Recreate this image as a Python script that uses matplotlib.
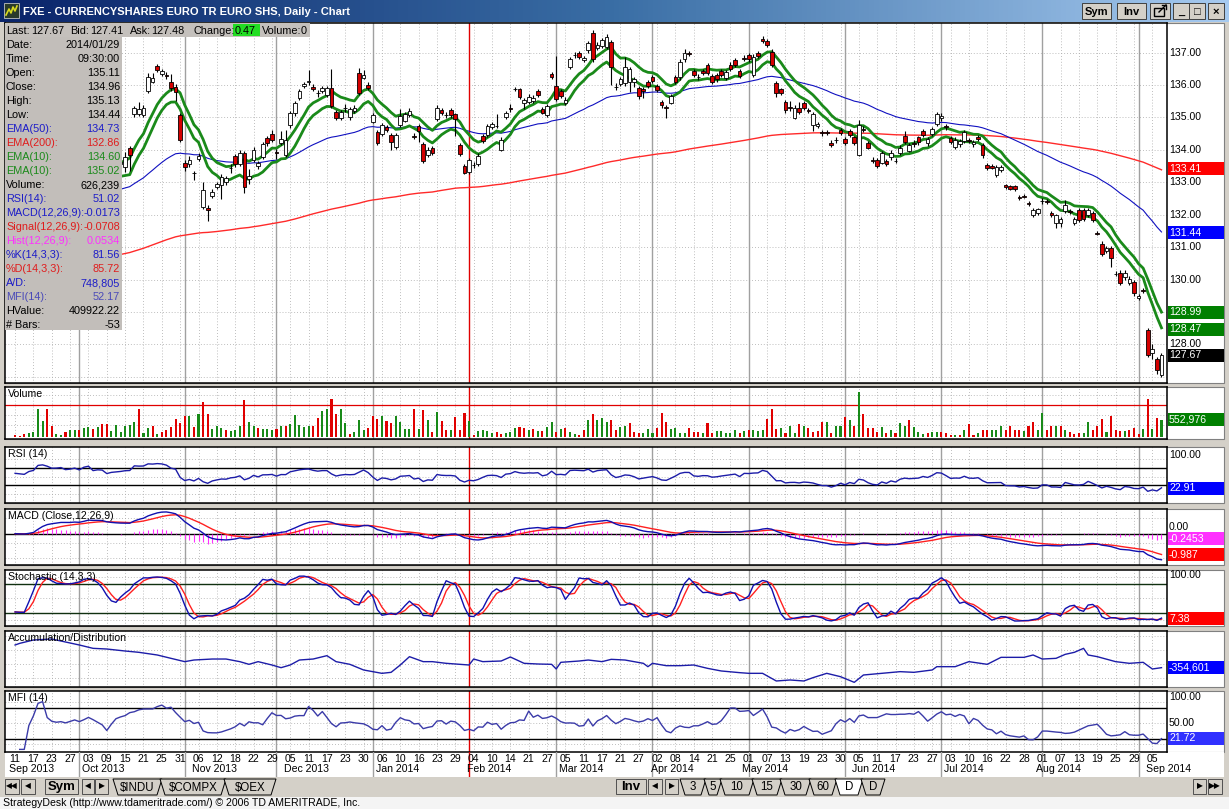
import numpy as np
import pandas as pd
import matplotlib.pyplot as plt
from matplotlib.patches import Rectangle, Polygon
from matplotlib.colors import LinearSegmentedColormap

# ---- daily bars, Sep 11 2013 .. Sep 9 2014 ----
opens = [
    131.30, 131.05, 130.95, 131.25, 131.40, 131.60, 133.10, 133.30, 133.10, 132.85,
    132.90, 133.05, 132.80, 132.95, 133.20, 132.95, 133.75, 134.10, 133.45, 133.70,
    133.65, 133.10, 133.40, 133.55, 133.48, 134.05, 135.10, 135.10, 135.08, 135.82,
    136.10, 136.59, 136.33, 136.30, 136.10, 135.94, 135.07, 133.60, 133.55, 133.30,
    133.72, 132.24, 132.22, 132.57, 132.85, 132.91, 133.00, 133.45, 133.80, 133.56,
    133.90, 133.10, 133.70, 133.50, 133.78, 134.36, 134.50, 133.92, 134.22, 133.84,
    134.76, 135.13, 135.60, 135.96, 136.10, 135.95, 135.75, 135.82, 135.70, 135.91,
    135.17, 134.97, 135.30, 135.00, 135.20, 136.38, 136.22, 136.00, 134.87, 134.56,
    134.50, 134.70, 134.45, 134.10, 134.76, 134.90, 135.07, 134.43, 134.73, 134.18,
    133.84, 134.06, 134.94, 135.24, 135.08, 135.22, 135.11, 134.15, 133.50, 133.32,
    133.54, 133.56, 134.42, 134.45, 134.70, 134.74, 134.00, 135.00, 135.29, 135.88,
    135.86, 135.45, 135.48, 135.50, 135.82, 135.25, 135.07, 136.33, 135.98, 135.80,
    135.45, 136.54, 136.93, 136.97, 136.78, 137.07, 137.59, 137.15, 137.20, 137.18,
    137.33, 135.95, 136.03, 136.05, 136.10, 136.10, 135.90, 135.88, 136.08, 136.25,
    135.96, 135.48, 135.31, 135.45, 136.25, 136.23, 136.79, 136.98, 136.43, 136.26,
    136.42, 136.61, 136.27, 136.32, 136.43, 136.20, 136.63, 136.77, 136.44, 136.83,
    136.92, 136.30, 136.97, 137.43, 137.36, 137.02, 136.05, 135.86, 135.48, 135.31,
    134.97, 135.30, 135.43, 135.23, 134.76, 134.73, 134.54, 134.54, 134.22, 134.31,
    134.60, 134.32, 134.58, 134.38, 133.84, 134.64, 134.20, 133.69, 133.70, 133.60,
    133.66, 133.77, 133.66, 133.90, 134.43, 133.97, 134.21, 134.38, 134.58, 134.22,
    134.50, 134.79, 134.97, 134.72, 134.37, 134.09, 134.17, 134.28, 134.29, 134.17,
    134.40, 134.14, 133.53, 133.49, 133.22, 133.37, 132.90, 132.88, 132.88, 132.54,
    132.58, 132.35, 131.98, 132.04, 132.43, 132.41, 132.04, 131.75, 131.73, 132.12,
    132.10, 131.75, 132.14, 132.14, 131.98, 132.04, 131.43, 131.11, 130.88, 130.96,
    130.18, 130.21, 130.08, 129.88, 129.93, 129.42, 129.68, 128.44, 127.72, 127.56,
    127.05]
highs = [
    131.38, 131.15, 131.05, 131.48, 131.70, 133.20, 133.45, 133.38, 133.18, 133.02,
    133.16, 133.12, 133.05, 133.30, 133.28, 133.82, 134.22, 134.15, 133.78, 133.80,
    133.70, 133.48, 133.60, 133.72, 133.92, 134.12, 135.36, 135.48, 135.38, 136.36,
    136.38, 136.65, 136.50, 136.40, 136.35, 136.02, 135.15, 133.70, 133.80, 133.36,
    133.90, 133.00, 132.30, 132.78, 133.02, 133.25, 133.20, 133.55, 133.88, 134.00,
    133.95, 133.40, 134.08, 133.66, 134.25, 134.44, 134.62, 134.04, 134.58, 134.60,
    135.20, 135.52, 135.88, 136.10, 136.45, 136.02, 135.85, 135.98, 135.98, 136.48,
    135.22, 135.24, 135.40, 135.32, 135.38, 136.52, 136.45, 136.08, 135.15, 134.62,
    134.82, 134.76, 134.52, 134.52, 135.25, 135.18, 135.28, 134.52, 134.80, 134.24,
    134.08, 134.12, 135.38, 135.30, 135.16, 135.28, 135.13, 134.22, 133.56, 133.76,
    133.62, 133.90, 134.50, 134.80, 134.86, 135.10, 134.38, 135.20, 135.40, 135.95,
    135.92, 135.60, 135.72, 135.68, 135.88, 135.32, 135.42, 136.40, 136.90, 135.86,
    135.62, 136.86, 137.02, 137.04, 136.90, 137.36, 137.70, 137.32, 137.46, 137.56,
    137.40, 136.05, 136.25, 136.85, 136.56, 136.24, 135.97, 135.95, 136.14, 136.32,
    136.02, 135.55, 135.38, 135.72, 136.32, 136.80, 137.12, 137.05, 136.50, 136.35,
    136.48, 136.68, 136.34, 136.38, 136.50, 136.46, 136.70, 136.84, 136.50, 136.92,
    136.98, 136.95, 137.04, 137.50, 137.42, 137.10, 136.12, 135.92, 135.55, 135.50,
    135.38, 135.48, 135.50, 135.30, 135.16, 134.86, 134.62, 134.62, 134.30, 134.40,
    134.66, 134.38, 134.64, 134.44, 134.92, 134.72, 134.26, 133.78, 133.76, 133.96,
    133.72, 133.98, 133.74, 134.14, 134.58, 134.22, 134.30, 134.44, 134.64, 134.40,
    134.70, 135.18, 135.12, 134.80, 134.42, 134.38, 134.34, 134.62, 134.36, 134.30,
    134.46, 134.20, 133.60, 133.55, 133.52, 133.52, 132.95, 132.93, 132.92, 132.62,
    132.65, 132.42, 132.20, 132.22, 132.50, 132.48, 132.10, 132.03, 131.94, 132.45,
    132.16, 131.92, 132.20, 132.22, 132.22, 132.10, 131.50, 131.18, 131.02, 131.02,
    130.26, 130.28, 130.28, 130.10, 130.00, 129.56, 129.74, 128.50, 128.00, 127.62,
    127.72]
lows = [
    130.96, 130.88, 130.80, 131.18, 131.32, 131.52, 133.00, 133.05, 132.78, 132.75,
    132.82, 132.74, 132.72, 132.88, 132.90, 132.90, 133.68, 133.40, 133.38, 133.55,
    133.05, 133.02, 133.32, 133.45, 133.32, 133.35, 135.02, 135.05, 135.02, 135.76,
    136.05, 136.40, 136.28, 136.18, 135.82, 135.50, 134.25, 133.35, 133.48, 133.06,
    133.66, 132.18, 131.80, 132.50, 132.78, 132.47, 132.92, 133.30, 133.48, 133.50,
    132.67, 132.94, 133.62, 133.40, 133.72, 134.12, 134.24, 133.73, 134.15, 133.78,
    134.66, 135.05, 135.55, 135.90, 136.00, 135.80, 135.62, 135.76, 135.64, 135.30,
    134.92, 134.92, 135.18, 134.92, 135.14, 135.70, 136.18, 135.84, 134.82, 134.15,
    134.44, 134.56, 133.99, 134.04, 134.70, 134.85, 135.00, 134.32, 134.25, 133.60,
    133.78, 133.84, 134.88, 135.06, 134.98, 134.98, 134.44, 133.80, 133.25, 133.26,
    133.45, 133.50, 134.22, 134.40, 134.64, 134.66, 133.95, 134.94, 135.18, 135.80,
    135.56, 135.25, 135.42, 135.44, 135.62, 135.09, 135.00, 136.18, 135.52, 135.60,
    135.38, 136.48, 136.84, 136.80, 136.72, 137.00, 136.72, 137.08, 137.14, 137.12,
    136.00, 135.85, 135.97, 135.98, 135.78, 135.95, 135.58, 135.60, 135.92, 136.06,
    135.78, 135.30, 134.97, 135.40, 136.04, 136.16, 136.72, 136.88, 136.25, 136.16,
    136.30, 136.30, 136.04, 136.10, 136.24, 136.14, 136.42, 136.55, 136.20, 136.74,
    136.72, 136.24, 136.84, 137.30, 137.16, 136.55, 135.62, 135.70, 135.12, 135.20,
    134.94, 135.10, 135.22, 135.12, 134.59, 134.66, 134.44, 134.45, 134.08, 134.22,
    134.46, 134.14, 134.40, 134.16, 133.80, 134.55, 134.02, 133.60, 133.44, 133.55,
    133.50, 133.70, 133.58, 133.84, 134.18, 133.92, 134.10, 134.16, 134.40, 134.12,
    134.44, 134.72, 134.90, 134.62, 134.18, 134.02, 134.10, 134.22, 134.20, 134.10,
    134.26, 133.76, 133.38, 133.40, 133.16, 133.32, 132.80, 132.76, 132.74, 132.46,
    132.50, 132.27, 131.92, 131.98, 132.34, 132.34, 131.92, 131.60, 131.62, 132.06,
    132.02, 131.68, 131.78, 131.82, 131.92, 131.76, 131.36, 130.74, 130.82, 130.40,
    130.10, 129.82, 130.00, 129.82, 129.50, 129.36, 129.58, 127.60, 127.55, 127.10,
    127.00]
closes = [
    131.05, 130.98, 130.92, 131.40, 131.62, 133.10, 133.32, 133.15, 132.88, 132.92,
    133.08, 132.82, 132.95, 133.22, 133.00, 133.75, 134.10, 133.48, 133.70, 133.66,
    133.12, 133.40, 133.52, 133.62, 133.79, 133.84, 135.29, 135.25, 135.30, 136.25,
    136.22, 136.46, 136.42, 136.28, 135.90, 135.77, 134.30, 133.47, 133.70, 133.27,
    133.82, 132.76, 132.15, 132.70, 132.95, 133.17, 133.12, 133.43, 133.55, 133.90,
    132.85, 133.20, 134.00, 133.58, 134.18, 134.20, 134.30, 133.90, 134.32, 134.30,
    135.13, 135.44, 135.80, 136.02, 136.11, 135.88, 135.74, 135.90, 135.90, 135.36,
    134.97, 135.17, 135.29, 135.25, 135.30, 135.76, 136.30, 135.90, 135.07, 134.22,
    134.76, 134.62, 134.25, 134.45, 135.04, 135.10, 135.20, 134.41, 134.58, 133.66,
    134.00, 133.90, 135.30, 135.12, 135.06, 135.07, 134.96, 133.87, 133.30, 133.68,
    133.52, 133.80, 134.28, 134.73, 134.80, 134.72, 134.30, 135.12, 135.27, 135.86,
    135.62, 135.53, 135.64, 135.60, 135.69, 135.14, 135.35, 136.25, 135.58, 135.66,
    135.55, 136.79, 136.91, 136.87, 136.82, 137.28, 136.79, 137.23, 137.38, 137.49,
    136.56, 135.93, 136.17, 136.56, 136.48, 136.17, 135.65, 135.82, 135.98, 136.13,
    135.84, 135.38, 135.29, 135.66, 136.10, 136.72, 136.97, 136.96, 136.32, 136.24,
    136.38, 136.36, 136.10, 136.17, 136.30, 136.40, 136.48, 136.61, 136.27, 136.81,
    136.79, 136.87, 136.90, 137.36, 137.23, 136.61, 135.74, 135.76, 135.22, 135.29,
    135.30, 135.17, 135.28, 135.21, 135.09, 134.79, 134.52, 134.52, 134.15, 134.29,
    134.53, 134.20, 134.45, 134.22, 134.76, 134.62, 134.07, 133.67, 133.50, 133.89,
    133.56, 133.90, 133.64, 134.07, 134.25, 134.14, 134.19, 134.23, 134.47, 134.32,
    134.63, 135.10, 135.05, 134.70, 134.25, 134.30, 134.28, 134.55, 134.27, 134.24,
    134.32, 133.83, 133.44, 133.45, 133.47, 133.47, 132.85, 132.80, 132.78, 132.52,
    132.56, 132.33, 132.14, 132.16, 132.41, 132.39, 131.98, 131.98, 131.88, 132.29,
    132.08, 131.86, 131.83, 131.88, 132.14, 131.83, 131.41, 130.80, 130.96, 130.65,
    130.16, 129.88, 130.21, 130.03, 129.57, 129.49, 129.66, 127.67, 127.87, 127.20,
    127.67]
volumes = [  # thousands of shares
    75, 45, 110, 130, 150, 880, 500, 900, 360, 110,
    75, 150, 210, 235, 235, 290, 320, 250, 320, 430,
    430, 180, 395, 150, 340, 395, 470, 900, 130, 290,
    340, 110, 150, 235, 320, 560, 450, 660, 660, 310,
    750, 1120, 750, 257, 342, 290, 235, 180, 235, 340,
    1180, 470, 365, 290, 257, 257, 235, 257, 365, 342,
    405, 695, 395, 320, 342, 342, 610, 820, 880, 1220,
    720, 880, 450, 110, 150, 535, 235, 290, 685, 580,
    660, 500, 450, 660, 470, 257, 257, 880, 257, 860,
    535, 150, 790, 500, 235, 235, 626, 235, 770, 500,
    75, 180, 215, 200, 130, 150, 110, 130, 150, 290,
    310, 290, 235, 257, 180, 180, 310, 470, 150, 257,
    290, 150, 110, 75, 235, 555, 740, 555, 610, 470,
    555, 235, 310, 340, 450, 150, 130, 130, 257, 130,
    290, 770, 470, 257, 290, 130, 130, 290, 150, 150,
    130, 450, 130, 180, 180, 130, 130, 235, 130, 180,
    235, 235, 180, 235, 580, 880, 270, 290, 130, 365,
    130, 420, 365, 290, 150, 180, 470, 480, 130, 340,
    365, 640, 535, 340, 1430, 740, 290, 290, 150, 320,
    130, 235, 130, 450, 365, 535, 320, 150, 110, 130,
    150, 150, 150, 130, 75, 75, 75, 215, 420, 75,
    130, 235, 215, 235, 235, 340, 235, 365, 235, 235,
    180, 340, 480, 235, 770, 235, 340, 365, 340, 215,
    150, 110, 130, 130, 470, 215, 340, 590, 150, 685,
    215, 180, 180, 235, 290, 110, 257, 1200, 257, 610,
    553]

# accumulation/distribution line (millions)
ad_bars = [0, 1, 4, 8, 10, 14, 17, 20, 24, 27, 31, 34, 37, 39, 43, 46, 49, 51, 53, 56,
           58, 60, 62, 65, 68, 70, 73, 76, 78, 80, 82, 84, 86, 89, 91, 94, 99, 100, 102,
           106, 108, 111, 114, 117, 118, 119, 123, 125, 128, 130, 133, 137, 138, 139, 142,
           145, 148, 151, 154, 158, 160, 163, 166, 169, 172, 174, 177, 180, 183, 185, 189,
           193, 196, 200, 201, 205, 208, 212, 215, 220, 222, 224, 227, 229, 231, 233, 234,
           236, 240, 243, 246, 248, 250]
ad_values = [5.34, 5.75, 6.59, 6.84, 6.34, 5.34, 4.50, 4.33, 3.83, 3.50, 2.83, 1.99, 1.16,
             1.57, 1.82, 1.82, 1.16, 0.49, 1.16, 0.32, -0.35, 0.32, 1.57, 1.82, 2.66, 1.16,
             0.49, -0.93, -1.35, -1.77, -1.52, 0.32, 2.41, 1.16, 1.16, 0.74, 0.32, 1.82,
             1.16, 1.32, 2.33, 0.74, 0.57, 0.49, -0.68, 0.99, 1.32, 1.57, 1.16, 1.74, 1.57,
             0.74, -0.10, 0.74, 0.15, 0.15, 0.32, -0.52, -1.18, -1.60, -1.77, -1.77, -3.69,
             -3.44, -3.69, -2.86, -1.77, -2.61, -4.03, -2.19, -1.77, -1.35, -1.52, -0.93,
             -0.10, -0.10, 1.16, 0.49, 2.24, 2.24, 2.83, 1.82, 1.99, 2.99, 3.50, 4.50, 2.83,
             2.41, 1.16, 0.74, 0.99, -0.68, -0.35]

# x axis: a label on every 4th bar
tick_days = ['11', '17', '23', '27', '03', '09', '15', '21', '25', '31', '06', '12', '18', '22', '29',
             '05', '11', '17', '23', '30', '06', '10', '16', '23', '29', '04', '10', '14', '21', '27',
             '05', '11', '17', '21', '27', '02', '08', '14', '21', '25', '01', '07', '13', '19', '23',
             '30', '05', '11', '17', '23', '27', '03', '10', '16', '22', '28', '01', '07', '13', '19',
             '25', '29', '05']
month_names = ['Sep 2013', 'Oct 2013', 'Nov 2013', 'Dec 2013', 'Jan 2014', 'Feb 2014', 'Mar 2014',
               'Apr 2014', 'May 2014', 'Jun 2014', 'Jul 2014', 'Aug 2014', 'Sep 2014']
month_label_bars = [0, 16, 40, 60, 80, 100, 120, 140, 160, 184, 204, 224, 248]
month_start_bars = [14, 37, 57, 78, 99, 118, 139, 160, 181, 202, 224, 245]
cursor_bar = 99

ema50_seed = 132.3
ema200_seed = 130.2
rsi_seed_gain = 0.15
rsi_seed_loss = 0.11
vol_line = 1032

main_tags = [(133.41, '133.41', '#ff0000'), (131.44, '131.44', '#0000ff'),
             (128.99, '128.99', '#008000'), (128.47, '128.47', '#008000'),
             (127.67, '127.67', '#000000')]

info_rows = [('Date:', '2014/01/29', 'black'), ('Time:', '09:30:00', 'black'),
             ('Open:', '135.11', 'black'), ('Close:', '134.96', 'black'),
             ('High:', '135.13', 'black'), ('Low:', '134.44', 'black'),
             ('EMA(50):', '134.73', '#1c1cc8'), ('EMA(200):', '132.86', '#e01c1c'),
             ('EMA(10):', '134.60', '#1a8a1a'), ('EMA(10):', '135.02', '#1a8a1a'),
             ('Volume:', '626,239', 'black'), ('RSI(14):', '51.02', '#1c1cc8'),
             ('MACD(12,26,9):', '-0.0173', '#1c1cc8'), ('Signal(12,26,9):', '-0.0708', '#e01c1c'),
             ('Hist(12,26,9):', '0.0534', '#ff30ff'), ('%K(14,3,3):', '81.56', '#1c1cc8'),
             ('%D(14,3,3):', '85.72', '#e01c1c'), ('A/D:', '748,805', '#1c1cc8'),
             ('MFI(14):', '52.17', '#4a4ab8'), ('HValue:', '409922.22', 'black'),
             ('# Bars:', '-53', 'black')]

plt.rcParams['font.family'] = ['Liberation Sans', 'DejaVu Sans']

o = np.array(opens)
h = np.array(highs)
l = np.array(lows)
c = np.array(closes)
v = np.array(volumes, dtype=float)
n = len(c)
x = np.arange(n)


def ema(vals, span, seed=None):
    a = 2.0 / (span + 1)
    out = np.empty(len(vals))
    out[0] = vals[0] if seed is None else seed
    for i in range(1, len(vals)):
        out[i] = out[i - 1] + a * (vals[i] - out[i - 1])
    return out


# indicators
ema50 = ema(c, 50, ema50_seed)
ema200 = ema(c, 200, ema200_seed)
ema10_hi = ema(h, 10)
ema10_lo = ema(l, 10)

# RSI, Wilder smoothing
dif = np.diff(c, prepend=c[0])
avg_g, avg_l = rsi_seed_gain, rsi_seed_loss
rsi = np.empty(n)
for i in range(n):
    avg_g += (max(dif[i], 0) - avg_g) / 14
    avg_l += (max(-dif[i], 0) - avg_l) / 14
    rsi[i] = 100 - 100 / (1 + avg_g / avg_l)

macd = ema(c, 12) - ema(c, 26)
signal = ema(macd, 9, 0.0)
hist = macd - signal

cs = pd.Series(c)
lo14 = pd.Series(l).rolling(14, min_periods=1).min()
hi14 = pd.Series(h).rolling(14, min_periods=1).max()
fast_k = 100 * (cs - lo14) / (hi14 - lo14)
slow_k = fast_k.rolling(3, min_periods=1).mean()
slow_d = slow_k.rolling(3, min_periods=1).mean()

tp = (h + l + c) / 3
mf = tp * v
tp_chg = np.diff(tp, prepend=tp[0])
pos = pd.Series(np.where(tp_chg > 0, mf, 0.0)).rolling(14, min_periods=1).sum()
neg = pd.Series(np.where(tp_chg < 0, mf, 0.0)).rolling(14, min_periods=1).sum()
mfi = (100 - 100 / (1 + pos / neg.replace(0, np.nan))).values   # undefined until a down day

# ---------------- figure ----------------
W, H = 1229, 809
fig = plt.figure(figsize=(W / 100, H / 100), dpi=100)
fig.patch.set_facecolor('#d4d0c8')

bg = fig.add_axes([0, 0, 1, 1], zorder=0)
bg.axis('off')
title_cmap = LinearSegmentedColormap.from_list('tb', ['#0a246a', '#3a6ea5', '#a6caf0'])
bg.imshow(np.linspace(0, 1, 256)[None, :], cmap=title_cmap, extent=(0, W, 22, 0), aspect='auto')
bg.set_xlim(0, W)
bg.set_ylim(H, 0)

XMIN, XMAX = -2.2, 251.2
rows = {'main': (23, 383), 'vol': (387, 439), 'rsi': (447, 503), 'macd': (509, 565),
        'stoch': (570, 626), 'ad': (631, 687), 'mfi': (691, 752)}

for y0, y1 in rows.values():
    bg.add_patch(Rectangle((5, y0), 1219, y1 - y0, fc='white', ec='#808080', lw=0.8))
bg.add_patch(Rectangle((5, 752), 1219, 25, fc='white', ec='none'))


def panel(y0, y1):
    ax = fig.add_axes([5 / W, 1 - y1 / H, 1162 / W, (y1 - y0) / H], zorder=2)
    ax.set_xlim(XMIN, XMAX)
    ax.set_xticks([])
    ax.set_yticks([])
    for s in ax.spines.values():
        s.set_color('black')
        s.set_linewidth(1.1)
    for k in range(0, n, 4):
        ax.axvline(k, color='#a8a8a8', lw=0.6, ls=(0, (1, 2.5)), zorder=0)
    for k in month_start_bars:
        ax.axvline(k, color='#e00000' if k == cursor_bar else '#a0a0a0', lw=1.0, zorder=1)
    return ax


def hdots(ax, levels):
    for lv in levels:
        ax.axhline(lv, color='#a8a8a8', lw=0.6, ls=(0, (1, 2.5)), zorder=0)


def ypix(ax, val):
    return bg.transData.inverted().transform(ax.transData.transform((0, val)))[1]


def side_text(ax, val, s, va='center'):
    bg.text(1169, ypix(ax, val), s, fontsize=7.6, va=va, ha='left', zorder=2)


def side_tag(ax, val, s, color):
    y = ypix(ax, val)
    bg.add_patch(Rectangle((1168, y - 6.5), 56, 13, fc=color, ec='none', zorder=3))
    bg.text(1169, y, s, fontsize=7.6, va='center', ha='left', color='white', zorder=4)


def panel_title(ax, s):
    ax.text(0.0025, 0.97, s, transform=ax.transAxes, fontsize=7.6, va='top', ha='left', zorder=6)


# main price panel
ax = panel(*rows['main'])
ax.set_ylim(126.81, 137.91)
hdots(ax, range(127, 138))
ax.plot(x, ema200, color='#ff2a2a', lw=1.0, zorder=2)
ax.plot(x, ema50, color='#1010c0', lw=0.8, zorder=2)
ax.plot(x, ema10_hi, color='#1a8a1a', lw=2.0, zorder=2)
ax.plot(x, ema10_lo, color='#1a8a1a', lw=2.0, zorder=2)
up = c >= o
ax.vlines(x, l, h, color='black', lw=0.8, zorder=3)
ax.bar(x, np.maximum(np.abs(c - o), 0.012), bottom=np.minimum(o, c), width=0.8,
       color=np.where(up, 'white', '#d40000'), edgecolor='black', lw=0.6, zorder=4)
for p in range(128, 138):
    side_text(ax, p, f'{p:.2f}')
for val, s, col in main_tags:
    side_tag(ax, val, s, col)

# volume
axv = panel(*rows['vol'])
axv.set_ylim(-64, 1598)
hdots(axv, [380, 700, 1340])
prev = np.concatenate([[o[0]], c[:-1]])
axv.bar(x, v, width=0.45, color=np.where(c >= prev, '#188a18', '#e00000'), zorder=3)
axv.axhline(vol_line, color='#e00000', lw=0.9, zorder=2)
panel_title(axv, 'Volume')
side_tag(axv, volumes[-1], '552,976', '#008000')

# RSI
axr = panel(*rows['rsi'])
axr.set_ylim(-10.9, 118.5)
hdots(axr, [10, 50, 90])
axr.axhline(70, color='black', lw=1.0)
axr.axhline(30, color='black', lw=1.0)
axr.plot(x, rsi, color='#1c1ca8', lw=1.0, zorder=3)
panel_title(axr, 'RSI (14)')
side_text(axr, 100, '100.00')
side_tag(axr, 22.91, '22.91', '#0000ff')

# MACD
axm = panel(*rows['macd'])
axm.set_ylim(-1.476, 1.165)
hdots(axm, [0.75, -0.45, -1.15])
axm.axhline(0, color='black', lw=1.0)
axm.vlines(x, 0, hist, color='#ff30ff', lw=0.8, zorder=2)
axm.plot(x, signal, color='#ff2020', lw=1.0, zorder=3)
axm.plot(x, macd, color='#1010b0', lw=1.0, zorder=3)
panel_title(axm, 'MACD (Close,12,26,9)')
side_text(axm, 0.06, '0.00', va='bottom')
side_tag(axm, -0.2453, '-0.2453', '#ff30ff')
side_tag(axm, -0.987, '-0.987', '#ff0000')

# Stochastic
axs = panel(*rows['stoch'])
axs.set_ylim(-8.3, 110.4)
hdots(axs, [5, 50, 95])
axs.axhline(80, color='#103010', lw=1.0)
axs.axhline(20, color='#103010', lw=1.0)
axs.plot(x, slow_d, color='#ff2020', lw=1.0, zorder=3)
axs.plot(x, slow_k, color='#1010b0', lw=1.0, zorder=3)
panel_title(axs, 'Stochastic (14,3,3)')
side_text(axs, 100, '100.00')
side_tag(axs, 7.38, '7.38', '#ff0000')

# Accumulation / Distribution
axa = panel(*rows['ad'])
axa.set_ylim(-5.20, 8.85)
hdots(axa, [-3.0, 0.5, 4.0, 7.5])
axa.plot(ad_bars, ad_values, color='#1c1ca8', lw=1.0, zorder=3)
panel_title(axa, 'Accumulation/Distribution')
side_tag(axa, ad_values[-1], '-354,601', '#0000ff')

# MFI
axf = panel(*rows['mfi'])
axf.set_ylim(-5.0, 112.0)
hdots(axf, [10, 50, 90])
axf.axhline(80, color='black', lw=1.0)
axf.axhline(20, color='black', lw=1.0)
axf.plot(x, mfi, color='#3a3aa8', lw=1.0, zorder=3)
panel_title(axf, 'MFI (14)')
side_text(axf, 100, '100.00')
side_text(axf, 50, '50.00')
side_tag(axf, 21.72, '21.72', '#3030ff')

# x axis labels
axx = fig.add_axes([5 / W, 1 - 777 / H, 1162 / W, 25 / H], zorder=2)
axx.set_xlim(XMIN, XMAX)
axx.set_ylim(25, 0)
axx.axis('off')
for k in month_start_bars:
    axx.axvline(k, color='#e00000' if k == cursor_bar else '#a0a0a0', lw=1.0)
for k, s in zip(range(0, n, 4), tick_days):
    axx.text(k, 6.5, s, fontsize=7.6, ha='center', va='center')
for k, s in zip(month_label_bars, month_names):
    axx.text(k - 1.4, 17.5, s, fontsize=7.6, ha='left', va='center')

# ---------------- window chrome ----------------
bg.add_patch(Rectangle((4, 3), 15, 15, fc='#2a3a2a', ec='#c0c0c0', lw=0.6, zorder=3))
bg.plot([6, 9, 11, 13, 15, 17], [15, 9, 13, 7, 11, 6], color='#d8d820', lw=1.2, zorder=4)
bg.text(23, 11.5, 'FXE - CURRENCYSHARES EURO TR EURO SHS, Daily - Chart', color='white',
        fontsize=8, fontweight='bold', va='center', ha='left', zorder=4)
for x0, x1, s in [(1082, 1111, 'Sym'), (1117, 1146, 'Inv'), (1150, 1170, ''),
                  (1173, 1189, '_'), (1189, 1205, '□'), (1208, 1224, '×')]:
    bg.add_patch(Rectangle((x0, 3), x1 - x0, 16, fc='#d4d0c8', ec='#404040', lw=0.7, zorder=3))
    bg.text((x0 + x1) / 2, 11.5, s, fontsize=8, fontweight='bold', ha='center', va='center', zorder=4)
# pop-out icon drawn as a shape
bg.add_patch(Rectangle((1154, 8), 10, 8, fc='none', ec='black', lw=1.0, zorder=4))
bg.plot([1159, 1166], [12, 5], color='black', lw=1.0, zorder=5)
bg.plot([1162, 1166, 1166], [5, 5, 9], color='black', lw=1.0, zorder=5)

# bottom tab bar
bg.add_patch(Rectangle((0, 777), W, 20, fc='#d4d0c8', ec='none'))
for x0, x1, s, bold in [(5, 19, '◀◀', False), (21, 35, '◀', False), (45, 78, 'Sym', True),
                        (82, 94, '◀', False), (95, 108, '▶', False), (616, 646, 'Inv', True),
                        (648, 662, '◀', False), (665, 678, '▶', False),
                        (1193, 1206, '▶', False), (1208, 1222, '▶▶', False)]:
    bg.add_patch(Rectangle((x0, 779), x1 - x0, 15, fc='#d4d0c8', ec='#505050', lw=0.7))
    bg.text((x0 + x1) / 2, 787, s, fontsize=9.5 if bold else 5.5,
            fontweight='bold' if bold else 'normal', ha='center', va='center')
for x0, x1, s, fc in [(113, 162, '$INDU', '#d4d0c8'), (160, 226, '$COMPX', '#d4d0c8'),
                      (224, 276, '$OEX', '#d4d0c8'), (680, 706, '3', '#d4d0c8'),
                      (704, 722, '5', '#d4d0c8'), (720, 754, '10', '#d4d0c8'),
                      (752, 782, '15', '#d4d0c8'), (780, 811, '30', '#d4d0c8'),
                      (809, 837, '60', '#d4d0c8'), (835, 863, 'D', 'white'),
                      (861, 885, 'D', '#d4d0c8')]:
    bg.add_patch(Polygon([(x0, 779), (x1, 779), (x1 - 5, 795), (x0 + 5, 795)],
                         closed=True, fc=fc, ec='black', lw=0.7))
    bg.text((x0 + x1) / 2, 787.5, s, fontsize=8.3, ha='center', va='center')

bg.add_patch(Rectangle((0, 797), W, 12, fc='#f4f4f4', ec='none'))
bg.text(3, 803, 'StrategyDesk (http://www.tdameritrade.com/) © 2006 TD AMERITRADE, Inc.',
        fontsize=7.6, ha='left', va='center')

# quote strip and data window on top of the price panel
ov = fig.add_axes([0, 0, 1, 1], zorder=10)
ov.set_xlim(0, W)
ov.set_ylim(H, 0)
ov.axis('off')
ov.add_patch(Rectangle((5, 23), 305, 14, fc='#c4c0bc', ec='none'))
ov.add_patch(Rectangle((233, 24), 27, 12, fc='#22dd22', ec='none'))
for xs, s in [(6, 'Last:'), (31, '127.67'), (70, 'Bid:'), (90, '127.41'), (130, 'Ask:'),
              (151, '127.48'), (193, 'Change:'), (235, '0.47'), (262, 'Volume:'), (301, '0')]:
    ov.text(xs, 30.5, s, fontsize=7.8, ha='left', va='center')
ov.add_patch(Rectangle((5, 37), 117, 293, fc='#c2beba', ec='none'))
for i, (lab, val, col) in enumerate(info_rows):
    yy = 45 + 14 * i
    ov.text(6, yy, lab, color=col, fontsize=7.8, ha='left', va='center')
    ov.text(120, yy, val, color=col, fontsize=7.8, ha='right', va='center')

fig.savefig('out.png', dpi=100)
